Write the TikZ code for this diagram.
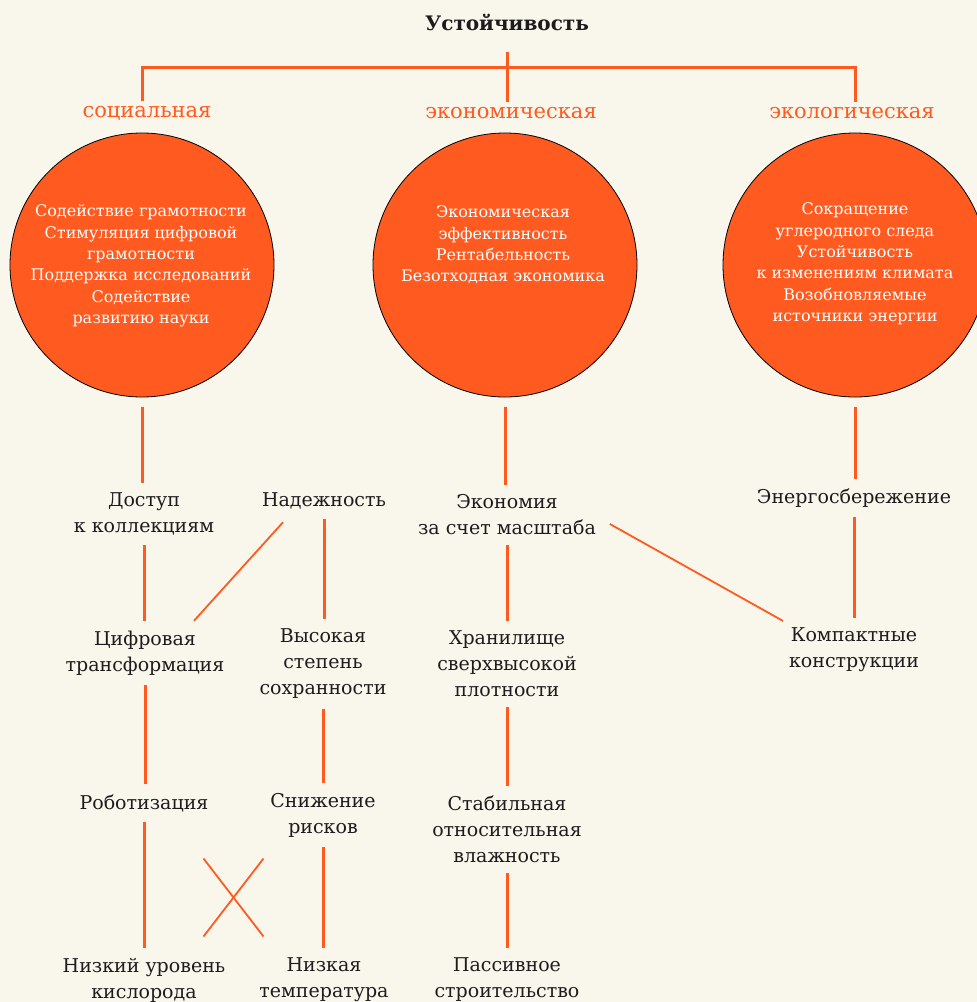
\documentclass[tikz,border=0pt]{standalone}
\usepackage{fontspec}
\setmainfont{DejaVu Serif}
\usetikzlibrary{calc}
\definecolor{accent}{HTML}{FF5A1F}
\definecolor{paper}{HTML}{F9F6EC}
\definecolor{ink}{HTML}{1C1C1C}

\begin{document}
\begin{tikzpicture}[x=1pt, y=-1pt,
  item/.style={align=center, text=ink, font=\fontsize{19}{26}\selectfont, inner sep=0pt, outer sep=10pt},
  pillar/.style={text=accent, font=\fontsize{21}{26}\selectfont, inner sep=0pt, outer sep=5pt},
  disc/.style={circle, draw=black, line width=0.8pt, fill=accent, minimum size=264pt, inner sep=0pt, outer sep=10pt},
  disctext/.style={align=center, text=white, font=\fontsize{16}{21.4}\selectfont, inner sep=0pt},
  link/.style={draw=accent, line width=3pt},
  thinlink/.style={draw=accent, line width=1.8pt}]
\fill[paper] (0,0) rectangle (977,1002);
\useasboundingbox (0,0) rectangle (977,1002);

% title and the three pillars
\node[font=\bfseries\fontsize{20}{24}\selectfont, text=ink] (title) at (507,22) {Устойчивость};
\node[pillar] (lblsoc) at (147,113) {социальная};
\node[pillar] (lbleco) at (511,113) {экономическая};
\node[pillar] (lblenv) at (852,113) {экологическая};

\node[disc] (soc) at (142,265) {};
\node[disc] (eco) at (505,265) {};
\node[disc] (env) at (855,265) {};
\node[disctext] (soctxt) at (141,266) {Содействие грамотности\\Стимуляция цифровой\\грамотности\\Поддержка исследований\\Содействие\\развитию науки};
\node[disctext] (ecotxt) at (503,245) {Экономическая\\эффективность\\Рентабельность\\Безотходная экономика};
\node[disctext] (envtxt) at (855,264) {Сокращение\\углеродного следа\\Устойчивость\\к изменениям климата\\Возобновляемые\\источники энергии};

\coordinate (fork) at (507,67);
\draw[link] ([yshift=-30pt]title.center) -- (fork |- lbleco.north);
\draw[link] (soc |- lblsoc.north) |- (fork) -| (env |- lblenv.north);

% rows of factors
\node[item] (access) at (144,514) {Доступ\\к коллекциям};
\node[item] (rel) at (324,501) {Надежность};
\node[item] (scale) at (507,515) {Экономия\\за счет масштаба};
\node[item] (saving) at (854,498) {Энергосбережение};

\node[item] (digital) at (145,653) {Цифровая\\трансформация};
\node[item] (preserv) at (323,664) {Высокая\\степень\\сохранности};
\node[item] (storage) at (507,664) {Хранилище\\сверхвысокой\\плотности};
\node[item] (compact) at (854,650) {Компактные\\конструкции};

\node[item] (robot) at (144,803) {Роботизация};
\node[item] (risks) at (323,815) {Снижение\\рисков};
\node[item] (humid) at (507,829) {Стабильная\\относительная\\влажность};

\node[item] (lowoxy) at (144,980) {Низкий уровень\\кислорода};
\node[item] (lowtemp) at (324,980) {Низкая\\температура};
\node[item] (passive) at (507,980) {Пассивное\\строительство};

\foreach \a/\b in {soc/access, eco/scale, env/saving, access/digital, rel/preserv,
  scale/storage, saving/compact, digital/robot, preserv/risks, storage/humid,
  robot/lowoxy, risks/lowtemp, humid/passive}
  \draw[link] (\a.south) -- (\a.south |- \b.north);

\draw[thinlink] ([xshift=-41pt,yshift=-3pt]rel.south) -- ([xshift=49pt]digital.north);
\draw[thinlink] ([xshift=4pt,yshift=-9pt]scale.east) -- ([xshift=4pt,yshift=-3pt]compact.north west);

% crossing links
\coordinate (cross) at ($(risks)!.5!(lowoxy)$);
\draw[thinlink] ($(cross)+(-30,-39)$) -- ($(cross)+(30,39)$);
\draw[thinlink] ($(cross)+(30,-39)$) -- ($(cross)+(-30,39)$);
\end{tikzpicture}
\end{document}
